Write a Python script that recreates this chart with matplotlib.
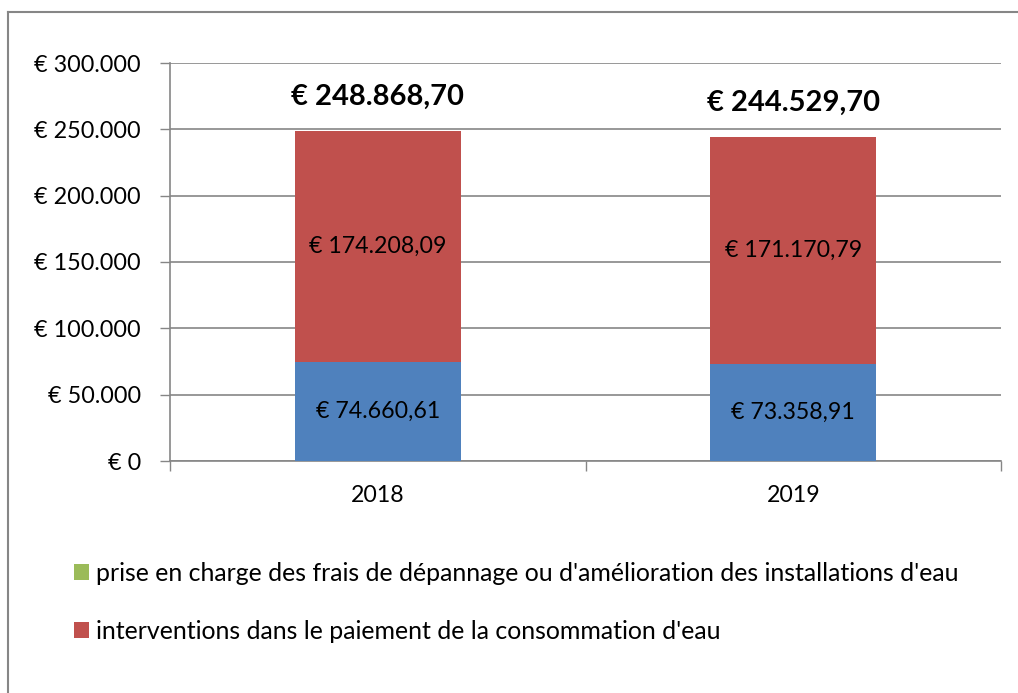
import matplotlib
matplotlib.use("Agg")
import matplotlib.pyplot as plt
from matplotlib.patches import Patch
from matplotlib.lines import Line2D

years = ["2018", "2019"]
consumption_base = [74660.61, 73358.91]          # blue
consumption_payment = [174208.09, 171170.79]     # red
repair_costs = [0.0, 0.0]                        # green
totals = [248868.70, 244529.70]
yticks = [0, 50000, 100000, 150000, 200000, 250000, 300000]
ytick_labels = ["€ 0", "€ 50.000", "€ 100.000", "€ 150.000", "€ 200.000", "€ 250.000", "€ 300.000"]
legend_labels = ["prise en charge des frais de dépannage ou d'amélioration des installations d'eau",
                 "interventions dans le paiement de la consommation d'eau"]

BLUE = "#4F81BD"
RED = "#C0504D"
GREEN = "#9BBB59"
GRAY = "#868686"

plt.rcParams['font.family'] = ['Lato', 'DejaVu Sans']

W, H = 1018, 693
fig = plt.figure(figsize=(W / 100, H / 100), dpi=100)
ax = fig.add_axes([170 / W, (H - 461) / H, 831 / W, 398 / H])

def eur(v):
    s = f"{v:,.2f}"
    return "€ " + s.replace(",", "X").replace(".", ",").replace("X", ".")

x = list(range(len(years)))
bw = 0.40
ax.bar(x, consumption_base, width=bw, color=BLUE, zorder=3)
ax.bar(x, consumption_payment, width=bw, bottom=consumption_base, color=RED, zorder=3)
bottoms3 = [a + b for a, b in zip(consumption_base, consumption_payment)]
ax.bar(x, repair_costs, width=bw, bottom=bottoms3, color=GREEN, zorder=3)

for i in x:
    ax.text(i, consumption_base[i] / 2, eur(consumption_base[i]), ha="center", va="center",
            fontsize=16.7, color="black", zorder=4)
    ax.text(i, consumption_base[i] + consumption_payment[i] / 2, eur(consumption_payment[i]),
            ha="center", va="center", fontsize=16.7, color="black", zorder=4)
    ax.annotate(eur(totals[i]), xy=(i, totals[i]), xytext=(0, 34), textcoords="offset pixels",
                ha="center", va="center", fontsize=21, fontweight="bold", color="black", zorder=4)

ax.set_xlim(-0.5, 1.5)
ax.set_ylim(0, 300000)
ax.set_yticks(yticks)
ax.set_yticklabels(ytick_labels)
ax.set_xticks(x)
ax.set_xticklabels(years)
ax.set_xticks([-0.5, 0.5, 1.5], minor=True)
ax.tick_params(axis="x", which="major", length=0, pad=17, labelsize=16.7)
ax.tick_params(axis="x", which="minor", length=7, width=1, color=GRAY, direction="out")
ax.tick_params(axis="y", length=7, width=1, color=GRAY, direction="out", pad=14, labelsize=16.8)
ax.grid(axis="y", color=GRAY, linewidth=1.2, zorder=0)
for s in ["top", "right"]:
    ax.spines[s].set_visible(False)
for s in ["left", "bottom"]:
    ax.spines[s].set_color(GRAY)
    ax.spines[s].set_linewidth(1.2)

handles = [Patch(facecolor=GREEN), Patch(facecolor=RED)]
fig.legend(handles, legend_labels, loc="upper left", bbox_to_anchor=(74 / W, 1 - 562 / H),
           frameon=False, fontsize=17.9, handlelength=0.6, handleheight=0.6,
           handletextpad=0.3, labelspacing=1.4, borderpad=0, borderaxespad=0)

# outer chart frame (top and left edges visible)
fig.add_artist(Line2D([8 / W, 1.0], [1 - 12 / H, 1 - 12 / H], color=GRAY, linewidth=1.5,
                      transform=fig.transFigure))
fig.add_artist(Line2D([8 / W, 8 / W], [0, 1 - 12 / H], color=GRAY, linewidth=1.5,
                      transform=fig.transFigure))

fig.savefig("out.png", dpi=100)
